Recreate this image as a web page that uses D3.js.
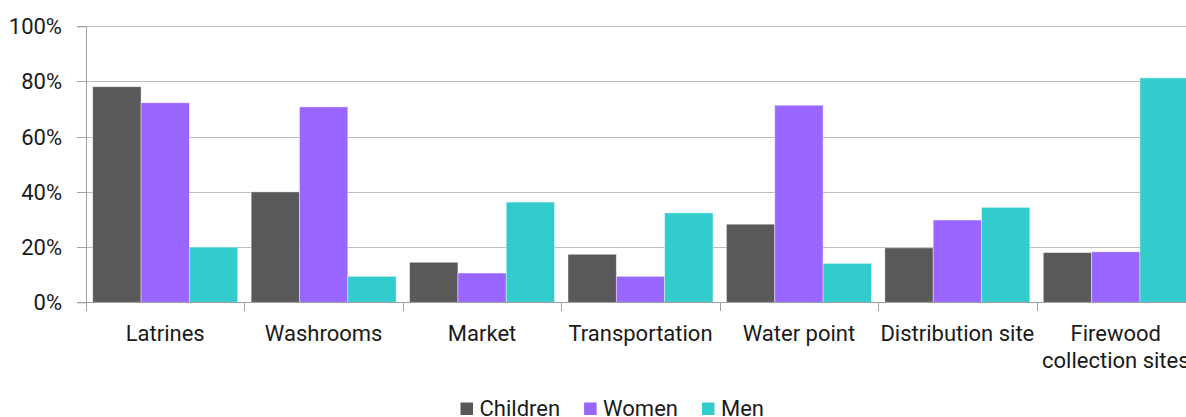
<!DOCTYPE html>
<html><head><meta charset="utf-8">
<script src="https://cdn.jsdelivr.net/npm/d3@7"></script>
<style>
html,body{margin:0;padding:0;background:#fff;overflow:hidden;}
text{font-family:Roboto,"Noto Sans",sans-serif;fill:#1a1a1a;}
</style></head>
<body>
<svg id="chart" width="1186" height="417"></svg>
<script>
const categories = ["Latrines","Washrooms","Market","Transportation","Water point","Distribution site","Firewood\ncollection sites"];
const seriesNames = ["Children","Women","Men"];
const children = [78.1, 40.0, 14.5, 17.4, 28.3, 19.7, 18.0];
const women    = [72.3, 70.8, 10.6,  9.4, 71.4, 29.8, 18.3];
const men      = [20.0,  9.4, 36.3, 32.4, 14.1, 34.4, 81.3];
const yTicks = [0, 20, 40, 60, 80, 100];
const colors = ["#595959", "#9966ff", "#33cccc"];

(function () {
const seriesValues = [children, women, men];
const svg = d3.select("#chart");
const pLeft = 86, pRight = 1195, pTop = 26.3, pBottom = 302.3;
const fs = "22px";

const x = d3.scaleBand().domain(categories).range([pLeft, pRight]).paddingInner(0.085).paddingOuter(0.0425);
const xBand = d3.scaleBand().domain(categories).range([pLeft, pRight]).padding(0);
const xs = d3.scaleBand().domain(seriesNames).range([0, x.bandwidth()]).padding(0);
const y = d3.scaleLinear().domain([0, 100]).range([pBottom, pTop]);

// grid
svg.append("g").selectAll("line").data(yTicks.filter(d => d > 0)).join("line")
  .attr("x1", pLeft).attr("x2", pRight)
  .attr("y1", d => Math.round(y(d)) + 0.5).attr("y2", d => Math.round(y(d)) + 0.5)
  .attr("stroke", "#bdbdbd").attr("stroke-width", 1);

// bars
const g = svg.append("g");
categories.forEach((c, i) => {
  seriesNames.forEach((s, j) => {
    const v = seriesValues[j][i];
    g.append("rect")
      .attr("x", x(c) + xs(s))
      .attr("y", y(v))
      .attr("width", xs.bandwidth())
      .attr("height", y(0) - y(v))
      .attr("fill", colors[j])
      .attr("stroke", "rgba(255,255,255,0.5)")
      .attr("stroke-width", 0.8);
  });
});

// y axis
const yAxis = d3.axisLeft(y).tickValues(yTicks).tickFormat(d => d + "%").tickSize(9).tickPadding(15);
const ya = svg.append("g").attr("transform", `translate(${pLeft},0)`).call(yAxis);
ya.select(".domain").attr("stroke", "#a0a0a0");
ya.selectAll(".tick line").attr("stroke", "#a0a0a0");
ya.selectAll(".tick text").style("font-size", fs).style("font-family", "Roboto, sans-serif").attr("fill", "#1a1a1a");
ya.selectAll(".tick").attr("transform", d => `translate(0,${Math.round(y(d)) + 0.5})`);

// x axis baseline + ticks at band boundaries
svg.append("line").attr("x1", pLeft).attr("x2", pRight)
  .attr("y1", Math.round(pBottom) + 0.5).attr("y2", Math.round(pBottom) + 0.5)
  .attr("stroke", "#a0a0a0");
const bounds = categories.map(c => xBand(c)).concat([pRight]);
svg.append("g").selectAll("line").data(bounds).join("line")
  .attr("x1", d => Math.round(d) + 0.5).attr("x2", d => Math.round(d) + 0.5)
  .attr("y1", Math.round(pBottom)).attr("y2", Math.round(pBottom) + 9)
  .attr("stroke", "#a0a0a0");

// x labels
const xl = svg.append("g");
categories.forEach(c => {
  const lines = c.split("\n");
  const cx = xBand(c) + xBand.bandwidth() / 2;
  const t = xl.append("text")
    .attr("x", cx)
    .attr("y", 341)
    .attr("text-anchor", "middle")
    .style("font-size", fs);
  lines.forEach((ln, k) => {
    t.append("tspan").attr("x", cx).attr("dy", k === 0 ? 0 : 27).text(ln);
  });
});

// legend
const lg = svg.append("g");
let lx = 460.5;
seriesNames.forEach((s, i) => {
  lg.append("rect").attr("x", lx).attr("y", 402.5).attr("width", 12.5).attr("height", 12.5).attr("fill", colors[i]);
  const t = lg.append("text").attr("x", lx + 19).attr("y", 415.5).style("font-size", fs).text(s);
  lx += 19 + t.node().getComputedTextLength() + 24;
});
})();
</script>
</body></html>
